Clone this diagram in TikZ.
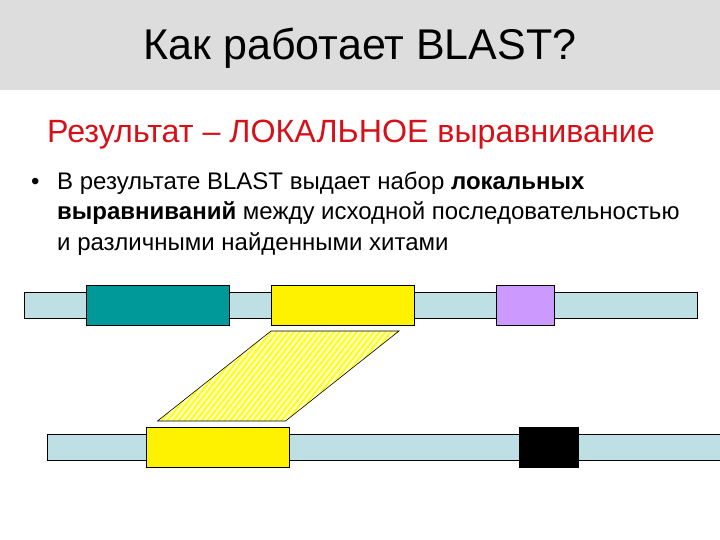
\documentclass[tikz,border=0pt]{standalone}
\usepackage{fontspec}
\setmainfont{Liberation Sans}
\usetikzlibrary{positioning}
\usetikzlibrary{patterns.meta}

\definecolor{headgray}{RGB}{221,221,221}
\definecolor{seqblue}{RGB}{190,224,228}
\definecolor{hitteal}{RGB}{0,153,153}
\definecolor{hitviolet}{RGB}{204,153,255}
\definecolor{titlered}{RGB}{214,16,24}
\definecolor{paleyellow}{RGB}{255,255,205}

\tikzset{
  seqbar/.style={draw,fill=seqblue,inner sep=0,minimum height=26,line width=0.8pt},
  hitbox/.style={draw,inner sep=0,minimum height=40,line width=0.8pt},
  textline/.style={anchor=base west,inner sep=0,font=\fontsize{24}{29}\selectfont}
}

\begin{document}
\begin{tikzpicture}[x=1pt,y=-1pt]
  \useasboundingbox (0,0) rectangle (720,540);
  \fill[headgray] (0,0) rectangle (720,90);

  \node [anchor=base,inner sep=0,font=\fontsize{43}{50}\selectfont] (title) at (360,60)
    {Как работает BLAST?};
  \node [anchor=base west,inner sep=0,text=titlered,font=\fontsize{32.2}{38}\selectfont] (result) at (47,143)
    {Результат -- ЛОКАЛЬНОЕ выравнивание};

  \node [anchor=base west,inner sep=0,font=\fontsize{24}{29}\selectfont] (dot) at (31,190) {•};
  \node [textline] (line1) at (57,190) {В результате BLAST выдает набор \textbf{локальных}};
  \node [textline] (line2) at (57,220) {\textbf{выравниваний} между исходной последовательностью};
  \node [textline] (line3) at (57,250) {и различными найденными хитами};

  % query sequence
  \node [seqbar,minimum width=673] (query) at (360.5,305) {};
  \node [hitbox,fill=hitteal,minimum width=143] (hit1) at (157.5,305) {};
  \node [hitbox,fill=yellow,minimum width=143] (hit2) at (342.5,305) {};
  \node [hitbox,fill=hitviolet,minimum width=58] (hit3) at (525,305) {};

  % subject sequence
  \node [seqbar,minimum width=690] (subject) at (392,447) {};
  \node [hitbox,fill=yellow,minimum width=143] (match) at (217.5,447) {};
  \node [hitbox,fill=black,minimum width=59] (hit4) at (548.5,447) {};

  % local alignment
  \fill [paleyellow] (271,331) -- (399,331) -- (285.5,421) -- (157.5,421) -- cycle;
  \draw [line width=0.6pt,pattern={Lines[angle=52,distance=4.5pt,line width=1.8pt]},pattern color=yellow]
    (271,331) -- (399,331) -- (285.5,421) -- (157.5,421) -- cycle;
\end{tikzpicture}
\end{document}
